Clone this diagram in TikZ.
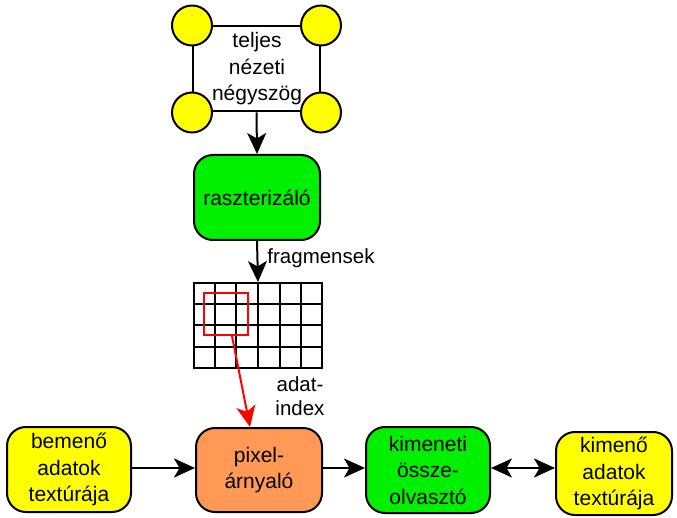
\documentclass[tikz,border=0pt]{standalone}
\usepackage{fontspec}
\setmainfont{Liberation Sans}
\usetikzlibrary{arrows.meta,calc}
\definecolor{boxyellow}{RGB}{255,255,0}
\definecolor{boxgreen}{RGB}{0,240,0}
\definecolor{boxorange}{RGB}{255,153,85}
\definecolor{selred}{RGB}{255,0,0}
\begin{document}
\begin{tikzpicture}[x=1pt,y=-1pt,
  every node/.style={font=\fontsize{21}{26.5}\selectfont, inner sep=0pt, align=center},
  stage/.style={draw, line width=2pt, rounded corners=19pt, minimum width=#1},
  stage/.default=124pt,
  corner/.style={draw, line width=2pt, circle, fill=boxyellow, minimum size=40pt},
  tip/.tip={Stealth[length=21pt,width=19pt,inset=5.5pt]},
  arr/.style={line width=2pt, -tip},
  darr/.style={line width=2pt, tip-tip},
  gridline/.style={line width=2pt},
  label/.style={font=\fontsize{20.5}{24}\selectfont}]
\useasboundingbox (0,0) rectangle (677,518);

% full-screen quad with its four vertices
\node[draw, line width=2pt, fill=white, minimum width=127pt, minimum height=85pt] (quad) at (256.5,69) {};
\node[corner] (v1) at (quad.north west) {};
\node[corner] (v2) at (quad.north east) {};
\node[corner] (v3) at (quad.south west) {};
\node[corner] (v4) at (quad.south east) {};
\node (quadtext) at (257,69) {teljes\\nézeti\\négyszög};

% rasterizer
\node[stage=126pt, minimum height=85pt, fill=boxgreen] (rast) at (257,197.5) {raszterizáló};

% fragment grid
\node[draw, line width=2pt, minimum width=128pt, minimum height=85pt] (grid) at (258,325.5) {};
\foreach \i in {1,...,5}
  \draw[gridline] ($(grid.north west)!\i/6!(grid.north east)$) -- ($(grid.south west)!\i/6!(grid.south east)$);
\foreach \j in {1,2,3}
  \draw[gridline] ($(grid.north west)!\j/4!(grid.south west)$) -- ($(grid.north east)!\j/4!(grid.south east)$);
\node[draw=selred, line width=2pt, minimum width=44pt, minimum height=42pt] (sel) at (226,314) {};

% bottom row
\node[stage, minimum height=85pt, fill=boxyellow] (inp) at (69,469.5) {bemenő\\adatok\\textúrája};
\node[stage=126pt, minimum height=84pt, fill=boxorange] (pix) at (259,470) {pixel-\\árnyaló};
\node[stage, minimum height=86pt, fill=boxgreen] (merge) at (428,470) {kimeneti\\össze-\\olvasztó};
\node[stage=116pt, minimum height=83pt, fill=boxyellow] (outp) at (614,473.5) {kimenő\\adatok\\textúrája};

% labels
\node[label] (fraglbl) at (321,258) {fragmensek};
\node[label] (idxlbl) at (300,396) {adat-\\index};

% connectors
\draw[arr] (quad.south) -- (rast.north);
\draw[arr] (rast.south) -- (grid.north);
\coordinate (selfoot) at ($(sel.south)+(6,0)$);
\draw[arr, selred] (selfoot) -- ($(pix.north)+(-9,0)$);
\draw[arr] (inp.east |- 0,468) -- (pix.west |- 0,468);
\draw[arr] (pix.east |- 0,468) -- (merge.west |- 0,468);
\draw[darr] (merge.east |- 0,468) -- (outp.west |- 0,468);
\end{tikzpicture}
\end{document}
